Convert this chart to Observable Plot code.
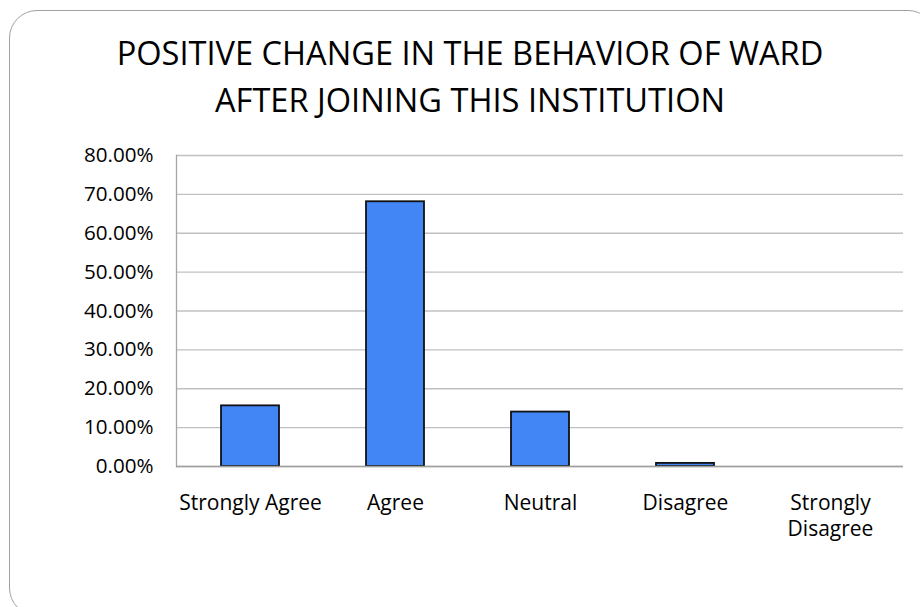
<!DOCTYPE html>
<html><head><meta charset="utf-8">
<script src="https://cdn.jsdelivr.net/npm/d3@7"></script>
<script src="https://cdn.jsdelivr.net/npm/@observablehq/plot@0.6"></script>
<style>
body{margin:0;background:#fff;}
#wrap{position:relative;width:920px;height:607px;overflow:hidden;font-family:"Open Sans",sans-serif;background:#fff;}
#frame{position:absolute;left:9px;top:10px;width:927px;height:606px;border:1.5px solid #a0a0a0;border-radius:28px;box-sizing:border-box;}
#title{position:absolute;left:0;top:29px;width:940px;text-align:center;font-size:32.6px;line-height:47px;color:#000;}
#chart{position:absolute;left:0;top:140px;}
</style></head>
<body><div id="wrap"><div id="frame"></div><div id="title">POSITIVE CHANGE IN THE BEHAVIOR OF WARD<br>AFTER JOINING THIS INSTITUTION</div><div id="chart"></div></div>
<script>
const categories = ["Strongly Agree", "Agree", "Neutral", "Disagree", "Strongly Disagree"];
const tickLabels = ["Strongly Agree", "Agree", "Neutral", "Disagree", "Strongly\nDisagree"];
const values = [15.6, 68.1, 14.0, 0.8, 0];
const yTicks = [0, 10, 20, 30, 40, 50, 60, 70, 80];

const data = categories.map((c, i) => ({category: c, value: values[i]}));

const chart = Plot.plot({
  width: 920, height: 467,
  marginTop: 15, marginBottom: 141, marginLeft: 176, marginRight: 17,
  style: {fontFamily: "'Open Sans', sans-serif", fontSize: "21px", color: "#000", background: "transparent", overflow: "visible"},
  x: {domain: categories, paddingInner: 0.6, paddingOuter: 0.3, label: null},
  y: {domain: [0, 80], label: null},
  marks: [
    Plot.gridY(yTicks, {stroke: "#c0c0c0", strokeOpacity: 1, strokeWidth: 1.3}),
    Plot.axisY(yTicks, {tickSize: 0, tickPadding: 23, tickFormat: d => d.toFixed(2) + "%", fontSize: 20.6, label: null}),
    Plot.axisX({tickSize: 0, tickPadding: 25, tickFormat: d => tickLabels[categories.indexOf(d)], lineHeight: 1.25, fontSize: 21, label: null}),
    Plot.frame({anchor: "left", stroke: "#a6a6a6", strokeWidth: 1.3}),
    Plot.barY(data, {x: "category", y: "value", fill: "#4285f4", stroke: "#111", strokeWidth: 1.8}),
    Plot.ruleY([0], {stroke: "#a0a0a0", strokeWidth: 1.5})
  ]
});
document.getElementById("chart").appendChild(chart);
</script>
</body></html>
